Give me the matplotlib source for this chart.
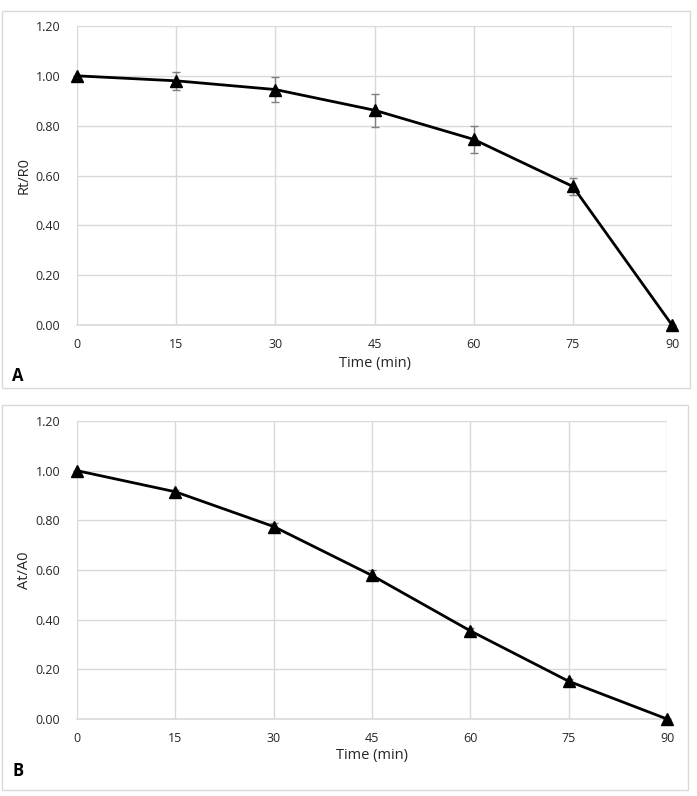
import matplotlib.pyplot as plt
from matplotlib.patches import Rectangle

plt.rcParams['font.family'] = ['Open Sans', 'DejaVu Sans']

# Data
time_min = [0, 15, 30, 45, 60, 75, 90]
rt_r0 = [1.00, 0.98, 0.945, 0.862, 0.745, 0.556, 0.00]
rt_err = [0.0, 0.037, 0.05, 0.066, 0.055, 0.035, 0.0]
at_a0 = [1.00, 0.915, 0.775, 0.578, 0.355, 0.152, 0.00]
at_err = [0.0, 0.006, 0.015, 0.02, 0.01, 0.008, 0.0]
y_ticks = [0.0, 0.2, 0.4, 0.6, 0.8, 1.0, 1.2]

W, H = 697, 796
fig = plt.figure(figsize=(W / 100, H / 100), dpi=100)

grid_col = '#d9d9d9'
text_col = '#262626'


def fx(px):
    return px / W


def fy(py):
    return 1 - py / H


def panel(box, area, y, err, ylabel, letter, xlab_y, letter_y):
    # outer border
    bx0, by0, bx1, by1 = box
    fig.patches.append(Rectangle((fx(bx0), fy(by1)), fx(bx1 - bx0), (by1 - by0) / H,
                                 transform=fig.transFigure, fill=False,
                                 edgecolor='#d9d9d9', linewidth=1.0))
    x0, y0, x1, y1 = area
    ax = fig.add_axes([fx(x0), fy(y1), fx(x1 - x0), (y1 - y0) / H])
    ax.errorbar(time_min, y, yerr=err, color='black', marker='^', markersize=8,
                linewidth=2, ecolor='#7f7f7f', elinewidth=1, capsize=3, capthick=1,
                clip_on=False, zorder=3)
    ax.set_xlim(0, 90)
    ax.set_ylim(0, 1.2)
    ax.set_xticks(time_min)
    ax.set_yticks(y_ticks)
    ax.set_yticklabels([f'{v:.2f}' for v in y_ticks])
    ax.grid(True, color=grid_col, linewidth=1)
    ax.set_axisbelow(True)
    for s in ['top', 'right', 'left']:
        ax.spines[s].set_visible(False)
    ax.spines['bottom'].set_color(grid_col)
    ax.spines['bottom'].set_linewidth(1.2)
    ax.tick_params(length=0, labelsize=9, labelcolor=text_col)
    ax.tick_params(axis='x', pad=9)
    ax.tick_params(axis='y', pad=12)
    ax.set_ylabel(ylabel, fontsize=10.5, color=text_col)
    ax.yaxis.set_label_coords(-(x0 - 32) / (x1 - x0), 0.5)
    fig.text(fx((x0 + x1) / 2), fy(xlab_y), 'Time (min)', fontsize=10.5,
             color=text_col, ha='center', va='center')
    fig.text(fx(12), fy(letter_y), letter, fontsize=12, fontweight='bold',
             ha='left', va='center')
    return ax


panel((2, 11, 690, 388), (77, 26, 672, 325), rt_r0, rt_err, 'Rt/R0', 'A', 363, 376)
panel((2, 405, 688, 790), (77, 421, 667, 719), at_a0, at_err, 'At/A0', 'B', 756, 771)

fig.savefig('out.png', dpi=100)
